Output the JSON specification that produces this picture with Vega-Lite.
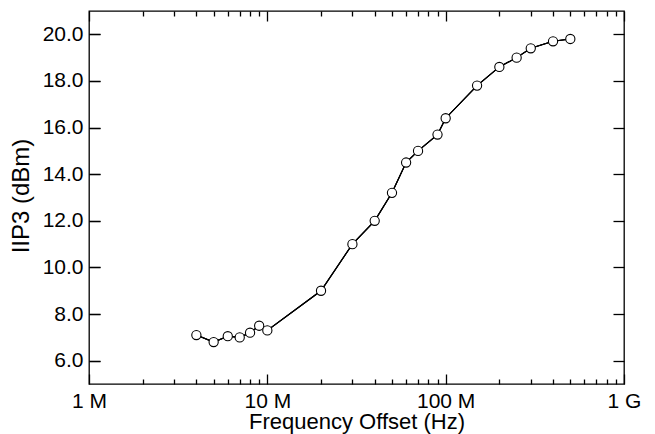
{
  "$schema": "https://vega.github.io/schema/vega-lite/v6.json",
  "autosize": "none",
  "padding": {"left": 89, "top": 11, "right": 31, "bottom": 50},
  "width": 535,
  "height": 373,
  "background": "white",
  "config": {
    "view": {"stroke": "black", "strokeWidth": 1.3},
    "axis": {
      "domain": false, "ticks": true,
      "tickColor": "black", "tickWidth": 1.3,
      "labelFont": "Liberation Sans", "labelFontSize": 21, "labelColor": "black",
      "titleFont": "Liberation Sans", "titleFontSize": 22, "titleFontWeight": "normal", "titleColor": "black",
      "grid": false
    }
  },
  "data": {"values": [
    {"f": 4000000, "iip3": 7.1},
    {"f": 5000000, "iip3": 6.8},
    {"f": 6000000, "iip3": 7.05},
    {"f": 7000000, "iip3": 7.0},
    {"f": 8000000, "iip3": 7.2},
    {"f": 9000000, "iip3": 7.5},
    {"f": 10000000, "iip3": 7.3},
    {"f": 20000000, "iip3": 9.0},
    {"f": 30000000, "iip3": 11.0},
    {"f": 40000000, "iip3": 12.0},
    {"f": 50000000, "iip3": 13.2},
    {"f": 60000000, "iip3": 14.5},
    {"f": 70000000, "iip3": 15.0},
    {"f": 90000000, "iip3": 15.7},
    {"f": 100000000, "iip3": 16.4},
    {"f": 150000000, "iip3": 17.8},
    {"f": 200000000, "iip3": 18.6},
    {"f": 250000000, "iip3": 19.0},
    {"f": 300000000, "iip3": 19.4},
    {"f": 400000000, "iip3": 19.7},
    {"f": 500000000, "iip3": 19.8}
  ]},
  "layer": [
    {
      "mark": {"type": "line", "color": "black", "strokeWidth": 1.1},
      "encoding": {
        "x": {"field": "f", "type": "quantitative",
          "scale": {"type": "log", "domain": [1000000, 1000000000], "nice": false},
          "axis": {"orient": "bottom", "title": "Frequency Offset (Hz)",
            "values": [1000000, 10000000, 100000000, 1000000000],
            "tickSize": 10, "offset": -10,
            "labelExpr": "datum.value == 1000000 ? '1 M' : datum.value == 10000000 ? '10 M' : datum.value == 100000000 ? '100 M' : '1 G'",
            "labelBaseline": "alphabetic", "labelPadding": 23, "labelFlush": false, "labelOverlap": false,
            "titleBaseline": "alphabetic", "titleY": 54}},
        "y": {"field": "iip3", "type": "quantitative",
          "scale": {"domain": [5, 21], "nice": false, "zero": false},
          "axis": {"orient": "left", "title": "IIP3 (dBm)", "values": [6,8,10,12,14,16,18,20],
            "format": ".1f", "ticks": false, "labelPadding": 6,
            "titleBaseline": "alphabetic", "titleX": -61, "titleY": 184.5, "titleFontSize": 24}}
      }
    },
    {
      "mark": {"type": "line", "color": "black", "strokeWidth": 1.1},
      "encoding": {
        "x": {"field": "f", "type": "quantitative",
          "scale": {"type": "log", "domain": [1000000, 1000000000], "nice": false},
          "axis": {"orient": "bottom", "title": null, "labels": false,
            "values": [2000000,3000000,4000000,5000000,6000000,7000000,8000000,9000000,20000000,30000000,40000000,50000000,60000000,70000000,80000000,90000000,200000000,300000000,400000000,500000000,600000000,700000000,800000000,900000000],
            "tickSize": 5, "offset": -5}},
        "y": {"field": "iip3", "type": "quantitative",
          "scale": {"domain": [5, 21], "nice": false, "zero": false},
          "axis": {"orient": "right", "title": null, "labels": false, "values": [6,8,10,12,14,16,18,20], "tickSize": 11, "offset": -11}}
      }
    },
    {
      "mark": {"type": "line", "color": "black", "strokeWidth": 1.1},
      "encoding": {
        "x": {"field": "f", "type": "quantitative",
          "scale": {"type": "log", "domain": [1000000, 1000000000], "nice": false},
          "axis": {"orient": "top", "title": null, "labels": false,
            "values": [1000000, 10000000, 100000000, 1000000000],
            "tickSize": 10, "offset": -10}},
        "y": {"field": "iip3", "type": "quantitative",
          "scale": {"domain": [5, 21], "nice": false, "zero": false},
          "axis": {"orient": "left", "title": null, "labels": false, "values": [6,8,10,12,14,16,18,20], "tickSize": 11, "offset": -11}}
      }
    },
    {
      "mark": {"type": "point", "shape": "circle", "filled": true, "fill": "white", "stroke": "black", "strokeWidth": 1.1, "size": 85, "opacity": 1},
      "encoding": {
        "x": {"field": "f", "type": "quantitative",
          "scale": {"type": "log", "domain": [1000000, 1000000000], "nice": false},
          "axis": {"orient": "top", "title": null, "labels": false,
            "values": [2000000,3000000,4000000,5000000,6000000,7000000,8000000,9000000,20000000,30000000,40000000,50000000,60000000,70000000,80000000,90000000,200000000,300000000,400000000,500000000,600000000,700000000,800000000,900000000],
            "tickSize": 5, "offset": -5}},
        "y": {"field": "iip3", "type": "quantitative",
          "scale": {"domain": [5, 21], "nice": false, "zero": false},
          "axis": {"orient": "right", "title": null, "labels": false, "values": [6,8,10,12,14,16,18,20], "tickSize": 11, "offset": -535}}
      }
    }
  ],
  "resolve": {"axis": {"x": "independent", "y": "independent"}}
}
